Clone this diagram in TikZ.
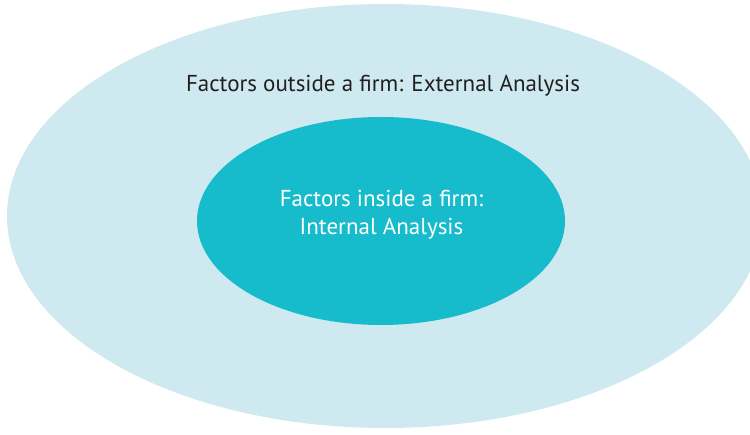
\documentclass[tikz,border=0pt]{standalone}
\usepackage{fontspec}
\usepackage{xcolor}
\setmainfont{PT Sans}
\usetikzlibrary{shapes.geometric}
\definecolor{outerblue}{HTML}{CEEAF0}
\definecolor{innerteal}{HTML}{16BCCB}
\definecolor{textdark}{HTML}{231F20}
\tikzset{x=1pt,y=-1pt,
 zone/.style={ellipse,draw=none,inner sep=0pt},
 outer zone/.style={zone,fill=outerblue,minimum width=756pt,minimum height=424pt},
 inner zone/.style={zone,fill=innerteal,minimum width=368pt,minimum height=208pt},
 zone label/.style={font=\fontsize{23}{28}\selectfont,align=center,inner sep=0pt},
 }

\begin{document}
\begin{tikzpicture}
        \useasboundingbox (0,0) rectangle (750,435);
        \node[outer zone] (external) at (385,216) {};
        \node[inner zone] (internal) at (381,221) {};
        \node[zone label, text=textdark, anchor=base] (externallabel) at (383,92)
            {Factors outside a firm: External Analysis};
        \node[zone label, text=white, anchor=base] (internallabel) at (381.5,235)
            {Factors inside a firm:\\Internal Analysis};
    \end{tikzpicture}
\end{document}
